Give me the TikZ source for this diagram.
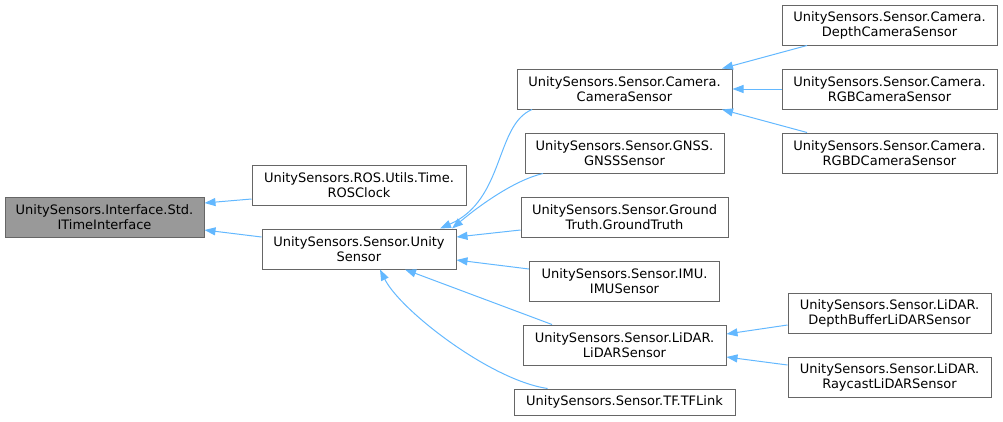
\documentclass[tikz,border=0pt]{standalone}
\usepackage{fontspec}
\setmainfont{DejaVu Sans}
\usetikzlibrary{arrows.meta,calc}
\definecolor{boxborder}{HTML}{666666}
\definecolor{hifill}{HTML}{999999}
\definecolor{edgeblue}{HTML}{63B8FF}
\tikzset{
  cls/.style={rectangle, draw=boxborder, line width=1pt, fill=white, inner sep=0pt,
    minimum height=40pt, align=center, font=\fontsize{13}{15}\selectfont, text=black},
  hicls/.style={cls, fill=hifill},
  inh/.style={draw=edgeblue, line width=1pt, -{Triangle[length=11pt,width=8pt]}},
}
\begin{document}
\begin{tikzpicture}[x=1pt,y=-1pt]
\useasboundingbox (0,0) rectangle (1003,421);
\node[hicls, minimum width=199pt] (itime) at (104.5,217) {UnitySensors.Interface.Std.\\ITimeInterface};
\node[cls, minimum width=214pt] (ros) at (359,185) {UnitySensors.ROS.Utils.Time.\\ROSClock};
\node[cls, minimum width=194pt] (unity) at (359,249) {UnitySensors.Sensor.Unity\\Sensor};
\node[cls, minimum width=215pt] (camera) at (624.5,89) {UnitySensors.Sensor.Camera.\\CameraSensor};
\node[cls, minimum width=199pt] (gnss) at (624.5,153) {UnitySensors.Sensor.GNSS.\\GNSSSensor};
\node[cls, minimum width=207pt] (gt) at (624.5,217) {UnitySensors.Sensor.Ground\\Truth.GroundTruth};
\node[cls, minimum width=190pt] (imu) at (624.5,281) {UnitySensors.Sensor.IMU.\\IMUSensor};
\node[cls, minimum width=203pt] (lidar) at (624.5,345) {UnitySensors.Sensor.LiDAR.\\LiDARSensor};
\node[cls, minimum width=221pt, minimum height=26pt] (tf) at (624.5,402) {UnitySensors.Sensor.TF.TFLink};
\node[cls, minimum width=215pt] (depth) at (889.5,25) {UnitySensors.Sensor.Camera.\\DepthCameraSensor};
\node[cls, minimum width=215pt] (rgb) at (889.5,89) {UnitySensors.Sensor.Camera.\\RGBCameraSensor};
\node[cls, minimum width=215pt] (rgbd) at (889.5,153) {UnitySensors.Sensor.Camera.\\RGBDCameraSensor};
\node[cls, minimum width=203pt] (dbl) at (889.5,313) {UnitySensors.Sensor.LiDAR.\\DepthBufferLiDARSensor};
\node[cls, minimum width=203pt] (ray) at (889.5,377) {UnitySensors.Sensor.LiDAR.\\RaycastLiDARSensor};

\draw[inh] ($(ros.west)+(0,14)$) -- ($(itime.east)+(0,-14)$);
\draw[inh] ($(unity.west)+(0,-12)$) -- ($(itime.east)+(0,13)$);
\draw[inh] ($(camera.south)+(-92.5,0)$) .. controls (495,125) and (505,200) .. ($(unity.north)+(81,0)$);
\draw[inh] ($(gnss.south)+(-81.5,0)$) .. controls (515,180) and (480,205) .. ($(unity.north)+(93,0)$);
\draw[inh] ($(gt.west)+(0,13)$) -- ($(unity.east)+(0,-12)$);
\draw[inh] ($(imu.west)+(0,-12)$) -- ($(unity.east)+(0,11)$);
\draw[inh] ($(lidar.north)+(-72.5,0)$) -- ($(unity.south)+(46,0)$);
\draw[inh] ($(tf.north)+(-77,0)$) .. controls (490,380) and (400,310) .. ($(unity.south)+(21,0)$);
\draw[inh] ($(depth.south)+(-82.5,0)$) -- ($(camera.north)+(97.5,0)$);
\draw[inh] (rgb.west) -- (camera.east);
\draw[inh] ($(rgbd.north)+(-82.5,0)$) -- ($(camera.south)+(97.5,0)$);
\draw[inh] ($(dbl.west)+(0,12)$) -- ($(lidar.east)+(0,-11)$);
\draw[inh] ($(ray.west)+(0,-12)$) -- ($(lidar.east)+(0,12)$);
\end{tikzpicture}
\end{document}
